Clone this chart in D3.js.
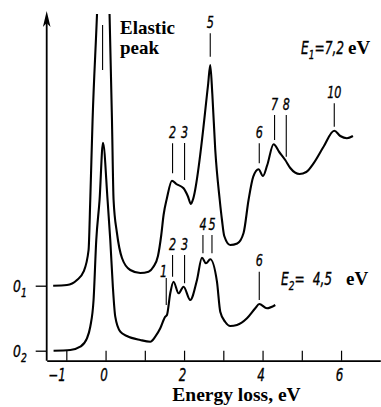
<!DOCTYPE html>
<html>
<head>
<meta charset="utf-8">
<script src="https://cdn.jsdelivr.net/npm/d3@7"></script>
<style>
  html, body { margin: 0; padding: 0; background: #fff; }
  svg { display: block; }
</style>
</head>
<body>
<div id="chart"></div>
<script>
// energy loss (eV) and intensity (arb. units)
// curve 1: E1 = 7,2 eV, drawn above its own zero line 0_1
var energy1 = [-1.335, -0.983, -0.729, -0.561, -0.433, -0.390, -0.331, -0.219, -0.059, 0.102,
    0.163, 0.204, 0.290, 0.418, 0.629, 0.884, 1.096, 1.215, 1.335, 1.419,
    1.478, 1.564, 1.692, 1.801, 1.987, 2.094, 2.176, 2.222, 2.611, 2.667,
    2.720, 2.795, 2.909, 2.966, 3.024, 3.177, 3.355, 3.516, 3.643, 3.763,
    3.898, 4.010, 4.120, 4.280, 4.425, 4.578, 4.706, 4.943, 5.113, 5.299,
    5.554, 5.827, 5.980, 6.150, 6.303];
var signal1 = [0, 0.07, 0.57, 1.4, 3.57, 8.57, 16.57, 27.07, 45, 27.07,
    16.57, 8.57, 5.27, 2.77, 1.57, 1.27, 1.4, 1.87, 2.97, 5.07,
    7.07, 8.77, 10.5, 10.17, 9.74, 8.97, 8.17, 8.57, 20.07, 22.07,
    19.17, 13.57, 8.57, 6.57, 4.97, 4.07, 4.22, 5.27, 8.57, 10.9,
    11.64, 10.97, 12.07, 14.14, 13.37, 12.57, 11.77, 11.17, 11.37, 12.24,
    13.9, 15.5, 14.97, 14.74, 14.97];

// curve 2: E2 = 4,5 eV, zero line 0_2
var energy2 = [-1.325, -0.899, -0.645, -0.474, -0.390, -0.306, -0.237, -0.153, -0.066, 0.051,
    0.120, 0.183, 0.247, 0.375, 0.545, 0.884, 1.139, 1.266, 1.394, 1.521,
    1.564, 1.648, 1.732, 1.860, 1.987, 2.158, 2.329, 2.456, 2.558, 2.667,
    2.838, 2.922, 3.050, 3.177, 3.348, 3.603, 3.814, 3.916, 4.112, 4.324];
var signal2 = [0, 0.07, 0.4, 1.24, 2.4, 5.07, 11.07, 15.07, 20.8, 15.07,
    11.07, 6.57, 3.4, 1.9, 1.47, 1.07, 0.9, 1.4, 2.24, 3.4,
    3.57, 5.74, 6.9, 5.74, 6.4, 5.07, 7.07, 9.3, 8.74, 9.14,
    6.9, 3.9, 2.87, 2.47, 2.57, 3.24, 4.24, 4.67, 4.24, 4.57];

var zero1 = 6.5;   // position of 0_1 on the common intensity scale
var zero2 = 0;

// peak markers: label, energy, bottom and top of the stroke (intensity units)
var peakLabels1 = ["", "2", "3", "5", "6", "7", "8", "10"];
var peakEnergy1 = [-0.076, 1.707, 2.013, 2.667, 3.916, 4.306, 4.604, 5.827];
var peakLow1 = [21.57, 11.24, 10.57, 22.9, 12.24, 14.57, 12.9, 15.9];
var peakHigh1 = [26.07, 14.24, 14.27, 25.24, 14.24, 17.07, 17.07, 18.24];

var peakLabels2 = ["1", "2", "3", "4", "5", "6"];
var peakEnergy2 = [1.546, 1.707, 2.013, 2.481, 2.711, 3.916];
var peakLow2 = [4.57, 7.4, 6.74, 9.74, 9.74, 5.07];
var peakHigh2 = [7.27, 9.57, 9.57, 11.57, 11.57, 7.9];

var xTicks = [-1, 0, 1, 2, 3, 4, 5, 6];
var xTickLabels = ["\u22121", "0", "", "2", "", "4", "", "6"];

var svgWidth = 381;
var svgHeight = 407;

var numFont = '"DejaVu Sans", sans-serif';
var serifFont = '"Liberation Serif", "DejaVu Serif", serif';

var svg = d3.select("#chart")
    .append("svg")
    .attr("width", svgWidth)
    .attr("height", svgHeight);

var x = d3.scaleLinear().domain([-1.5, 7]).range([46.7, 380.3]);
var y = d3.scaleLinear().domain([-1, 34]).range([360.7, 10.7]);

// narrow italic lettering like the drafting font of the original
function narrowText(parent, px, py, str, size, anchor, squeeze) {
    return parent.append("text")
        .attr("transform", "translate(" + px + "," + py + ") scale(" + (squeeze || 0.7) + ",1)")
        .attr("text-anchor", anchor || "middle")
        .attr("font-family", numFont)
        .attr("font-style", "italic")
        .attr("font-size", size)
        .attr("stroke", "#000")
        .attr("stroke-width", 0.35)
        .text(str);
}

// clip so the elastic peak runs off the top
svg.append("clipPath")
    .attr("id", "plotClip")
    .append("rect")
    .attr("x", 0).attr("y", 14)
    .attr("width", svgWidth).attr("height", svgHeight);

var line = d3.line()
    .x(function(d) { return x(d[0]); })
    .y(function(d) { return y(d[1]); })
    .curve(d3.curveMonotoneX);

function drawCurve(energy, signal, zero) {
    var pts = energy.map(function(e, i) { return [e, signal[i] + zero]; });
    svg.append("path")
        .datum(pts)
        .attr("clip-path", "url(#plotClip)")
        .attr("fill", "none")
        .attr("stroke", "#000")
        .attr("stroke-width", 2.1)
        .attr("stroke-linejoin", "round")
        .attr("d", line);
}

drawCurve(energy1, signal1, zero1);
drawCurve(energy2, signal2, zero2);

function drawMarkers(labels, energy, low, high, zero) {
    var g = svg.append("g");
    labels.forEach(function(lab, i) {
        var px = x(energy[i]);
        var top = y(high[i] + zero);
        g.append("line")
            .attr("x1", px).attr("x2", px)
            .attr("y1", y(low[i] + zero)).attr("y2", top)
            .attr("stroke", "#000")
            .attr("stroke-width", 1.1);
        if (lab === "") return;
        if (lab === "1") {
            // the "1" sits to the left of its stroke
            narrowText(g, px + 1, top - 1, lab, 16, "end");
        } else {
            narrowText(g, px, top - 5.5, lab, 16, "middle");
        }
    });
}

drawMarkers(peakLabels1, peakEnergy1, peakLow1, peakHigh1, zero1);
drawMarkers(peakLabels2, peakEnergy2, peakLow2, peakHigh2, zero2);

// x axis, ticks pointing inwards
var bottomAxis = d3.axisBottom(x)
    .tickValues(xTicks)
    .tickSizeInner(-10)
    .tickSizeOuter(0)
    .tickFormat("");

var xAxisG = svg.append("g")
    .attr("transform", "translate(0," + y(-1) + ")")
    .call(bottomAxis);
xAxisG.select(".domain").attr("stroke-width", 1.8);
xAxisG.selectAll(".tick line").attr("stroke-width", 1.2);

xTicks.forEach(function(t, i) {
    if (xTickLabels[i] === "") return;
    if (t === -1) {
        narrowText(svg, x(t) - 0.5, 381, xTickLabels[i], 17, "end");
    } else {
        narrowText(svg, x(t) - 1.5, 381, xTickLabels[i], 17, "middle");
    }
});

// y axis with arrow, ticks at the two zero lines
var leftAxis = d3.axisLeft(y)
    .tickValues([zero2, zero1])
    .tickSize(11)
    .tickFormat("");
var yAxisG = svg.append("g")
    .attr("transform", "translate(" + x(-1.5) + ",0)")
    .call(leftAxis);
yAxisG.select(".domain").remove();
yAxisG.selectAll(".tick line").attr("stroke-width", 1.3);

var ax = x(-1.5);
svg.append("line")
    .attr("x1", ax).attr("x2", ax)
    .attr("y1", y(-1)).attr("y2", 22)
    .attr("stroke", "#000")
    .attr("stroke-width", 1.8);
svg.append("path")
    .attr("d", "M" + ax + ",11 L" + (ax + 3.8) + ",27 L" + ax + ",23 L" + (ax - 3.8) + ",27 Z")
    .attr("fill", "#000");

// zero labels 0_1, 0_2
[[zero1, "1"], [zero2, "2"]].forEach(function(z) {
    var t = narrowText(svg, 13, y(z[0]) + 6, "", 15.5, "start", 0.8);
    t.append("tspan").text("0");
    t.append("tspan").attr("font-size", 11.5).attr("dy", 5).text(z[1]);
});

// energy labels
function energyLabel(px, py, sub, value, gap, evX) {
    var squeeze = 0.72;
    var t = narrowText(svg, px, py, "", 17, "start", squeeze);
    t.append("tspan").text("E");
    t.append("tspan").attr("font-size", 12.5).attr("dy", 5).text(sub);
    t.append("tspan").attr("dy", -5).text("=");
    t.append("tspan").attr("dx", gap / squeeze).text(value);
    svg.append("text")
        .attr("x", evX).attr("y", py)
        .attr("font-family", serifFont)
        .attr("font-weight", "bold")
        .attr("font-size", 19)
        .text("eV");
}
energyLabel(301, 53.5, "1", "7,2", 0, 348);
energyLabel(281, 285, "2", "4,5", 8, 346);

svg.append("text")
    .attr("x", 120).attr("y", 33.5)
    .attr("font-family", serifFont)
    .attr("font-weight", "bold")
    .attr("font-size", 19)
    .text("Elastic");
svg.append("text")
    .attr("x", 120).attr("y", 53.5)
    .attr("font-family", serifFont)
    .attr("font-weight", "bold")
    .attr("font-size", 19)
    .text("peak");

// x axis title
svg.append("text")
    .attr("x", 236.5).attr("y", 401)
    .attr("text-anchor", "middle")
    .attr("font-family", serifFont)
    .attr("font-weight", "bold")
    .attr("font-size", 19.5)
    .text("Energy loss, eV");
</script>
</body>
</html>
